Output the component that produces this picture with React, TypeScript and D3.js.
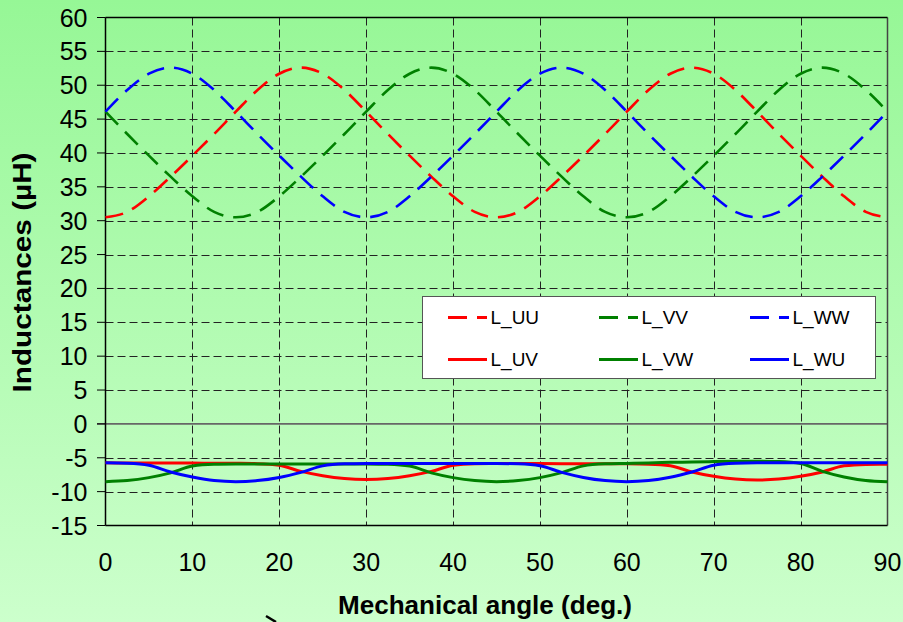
import React from "react";
import * as d3 from "d3";

// Mechanical angle samples (deg.)
const angles = [
  0, 2.5, 5, 7.5, 10, 12.5, 15, 17.5, 20, 22.5, 25, 27.5, 30, 32.5, 35, 37.5, 40, 42.5, 45,
  47.5, 50, 52.5, 55, 57.5, 60, 62.5, 65, 67.5, 70, 72.5, 75, 77.5, 80, 82.5, 85, 87.5, 90,
];

// Self inductances (µH)
const L_UU = [
  30.5, 31.3, 33.6, 36.5, 39.6, 42.8, 46.1, 49.3, 51.7, 52.6, 51.7, 49.3, 46.1, 42.8, 39.6, 36.5,
  33.6, 31.3, 30.5, 31.3, 33.6, 36.5, 39.6, 42.8, 46.1, 49.3, 51.7, 52.6, 51.7, 49.3, 46.1, 42.8,
  39.6, 36.5, 33.6, 31.3, 30.5,
];
const L_VV = [
  46.1, 42.8, 39.6, 36.5, 33.6, 31.3, 30.5, 31.3, 33.6, 36.5, 39.6, 42.8, 46.1, 49.3, 51.7, 52.6,
  51.7, 49.3, 46.1, 42.8, 39.6, 36.5, 33.6, 31.3, 30.5, 31.3, 33.6, 36.5, 39.6, 42.8, 46.1, 49.3,
  51.7, 52.6, 51.7, 49.3, 46.1,
];
const L_WW = [
  46.1, 49.3, 51.7, 52.6, 51.7, 49.3, 46.1, 42.8, 39.6, 36.5, 33.6, 31.3, 30.5, 31.3, 33.6, 36.5,
  39.6, 42.8, 46.1, 49.3, 51.7, 52.6, 51.7, 49.3, 46.1, 42.8, 39.6, 36.5, 33.6, 31.3, 30.5, 31.3,
  33.6, 36.5, 39.6, 42.8, 46.1,
];

// Mutual inductances (µH)
const L_UV = [
  -5.75, -5.76, -5.77, -5.78, -5.79, -5.8, -5.82, -5.87, -6.11, -7.01, -7.65, -8.06, -8.2, -8.06,
  -7.65, -7.01, -6.11, -5.87, -5.84, -5.85, -5.86, -5.87, -5.88, -5.89, -5.9, -5.95, -6.19, -7.09,
  -7.73, -8.14, -8.28, -8.14, -7.73, -7.09, -6.19, -5.98, -5.95,
];
const L_VW = [
  -8.53, -8.37, -7.93, -7.23, -6.23, -5.97, -5.93, -5.92, -5.92, -5.91, -5.91, -5.91, -5.92, -5.97,
  -6.23, -7.23, -7.93, -8.37, -8.53, -8.37, -7.93, -7.2, -6.2, -5.9, -5.83, -5.76, -5.68, -5.62,
  -5.56, -5.52, -5.5, -5.56, -5.86, -7.0, -7.83, -8.35, -8.53,
];
const L_WU = [
  -5.73, -5.8, -6.1, -7.1, -7.85, -8.37, -8.53, -8.37, -7.9, -7.15, -6.2, -5.9, -5.85, -5.84,
  -5.83, -5.83, -5.83, -5.83, -5.84, -5.9, -6.18, -7.15, -7.9, -8.37, -8.53, -8.37, -7.88, -7.1,
  -6.1, -5.82, -5.75, -5.74, -5.74, -5.74, -5.74, -5.74, -5.74,
];

const xTicks = [0, 10, 20, 30, 40, 50, 60, 70, 80, 90];
const yTicks = [-15, -10, -5, 0, 5, 10, 15, 20, 25, 30, 35, 40, 45, 50, 55, 60];

const seriesNames = ["L_UU", "L_VV", "L_WW", "L_UV", "L_VW", "L_WU"];
const seriesValues = [L_UU, L_VV, L_WW, L_UV, L_VW, L_WU];
const seriesColors = ["#ff0000", "#008000", "#0000ff", "#ff0000", "#008000", "#0000ff"];
const seriesDashed = [true, true, true, false, false, false];

const W = 903;
const H = 622;
const left = 105.5;
const right = 887.5;
const top = 17.5;
const bottom = 525.5;

const FONT = "'Liberation Sans', Arial, Helvetica, sans-serif";

export default function App() {
  const x = d3.scaleLinear().domain([0, 90]).range([left, right]);
  const y = d3.scaleLinear().domain([-15, 60]).range([bottom, top]);

  const line = d3
    .line<[number, number]>()
    .x((d) => x(d[0]))
    .y((d) => y(d[1]))
    .curve(d3.curveMonotoneX);

  const legendX = [448, 599, 750];
  const legendY = [317.5, 359.5];

  return (
    <svg
      width={W}
      height={H}
      viewBox={`0 0 ${W} ${H}`}
      style={{ position: "fixed", left: 0, top: 0 }}
      fontFamily={FONT}
    >
      <defs>
        <linearGradient id="bg" x1="0" y1="0" x2="0" y2="1">
          <stop offset="0" stopColor="rgb(150,247,150)" />
          <stop offset="1" stopColor="rgb(204,255,204)" />
        </linearGradient>
      </defs>
      <rect x={0} y={0} width={W} height={H} fill="url(#bg)" />

      {/* grid */}
      {yTicks
        .filter((v) => v !== -15 && v !== 60 && v !== 0)
        .map((v) => (
          <line
            key={"gy" + v}
            x1={left}
            x2={right}
            y1={Math.round(y(v)) + 0.5}
            y2={Math.round(y(v)) + 0.5}
            stroke="#222"
            strokeWidth={1}
            strokeDasharray="8,4"
          />
        ))}
      {xTicks
        .filter((v) => v !== 0 && v !== 90)
        .map((v) => (
          <line
            key={"gx" + v}
            x1={Math.round(x(v)) + 0.5}
            x2={Math.round(x(v)) + 0.5}
            y1={top}
            y2={bottom}
            stroke="#222"
            strokeWidth={1}
            strokeDasharray="8,4"
          />
        ))}
      {/* zero line */}
      <line x1={97} x2={right} y1={y(0)} y2={y(0)} stroke="#666" strokeWidth={1.6} />

      {/* frame */}
      <line x1={right} x2={right} y1={top} y2={bottom} stroke="#444" strokeWidth={1.5} />
      <line x1={left} x2={right} y1={top} y2={top} stroke="#000" strokeWidth={1.5} />
      <line x1={left} x2={right} y1={bottom} y2={bottom} stroke="#000" strokeWidth={1.5} />
      <line x1={left} x2={left} y1={top} y2={bottom} stroke="#000" strokeWidth={1.5} />

      {/* y ticks and labels */}
      {yTicks.map((v) => (
        <g key={"yt" + v}>
          <line x1={97} x2={left} y1={y(v)} y2={y(v)} stroke="#000" strokeWidth={1} />
          <text x={87.5} y={y(v)} dy="0.36em" textAnchor="end" fontSize={25} fill="#000">
            {v}
          </text>
        </g>
      ))}

      {/* x labels */}
      {xTicks.map((v) => (
        <text key={"xt" + v} x={x(v)} y={571} textAnchor="middle" fontSize={25} fill="#000">
          {v}
        </text>
      ))}

      {/* series */}
      {seriesValues.map((vals, i) => (
        <path
          key={seriesNames[i]}
          d={line(angles.map((a, k) => [a, vals[k]] as [number, number])) || ""}
          fill="none"
          stroke={seriesColors[i]}
          strokeWidth={seriesDashed[i] ? 2.6 : 3}
          strokeDasharray={seriesDashed[i] ? "18,10" : undefined}
          strokeLinejoin="round"
        />
      ))}

      {/* legend */}
      <rect x={422.5} y={296.5} width={453} height={82} fill="#fff" stroke="#555" strokeWidth={1} />
      {seriesNames.map((name, i) => {
        const col = i % 3;
        const row = Math.floor(i / 3);
        const lx = legendX[col];
        const ly = legendY[row];
        return (
          <g key={"lg" + name}>
            <line
              x1={lx}
              x2={lx + 39}
              y1={ly}
              y2={ly}
              stroke={seriesColors[i]}
              strokeWidth={seriesDashed[i] ? 3 : 3.2}
              strokeDasharray={seriesDashed[i] ? "19,10" : undefined}
            />
            <text x={lx + 42.5} y={ly} dy="0.36em" fontSize={19} fill="#000">
              {name}
            </text>
          </g>
        );
      })}

      {/* axis titles */}
      <text
        x={485}
        y={614}
        textAnchor="middle"
        fontSize={25.5}
        fontWeight="bold"
        fill="#000"
        textLength={294}
        lengthAdjust="spacingAndGlyphs"
      >
        Mechanical angle (deg.)
      </text>
      <text
        transform="translate(31,272.5) rotate(-90)"
        textAnchor="middle"
        fontSize={25.5}
        fontWeight="bold"
        fill="#000"
        textLength={240}
        lengthAdjust="spacingAndGlyphs"
      >
        Inductances (µH)
      </text>

      <path d="M266,616 L276,622" stroke="#000" strokeWidth={2.5} />
    </svg>
  );
}
